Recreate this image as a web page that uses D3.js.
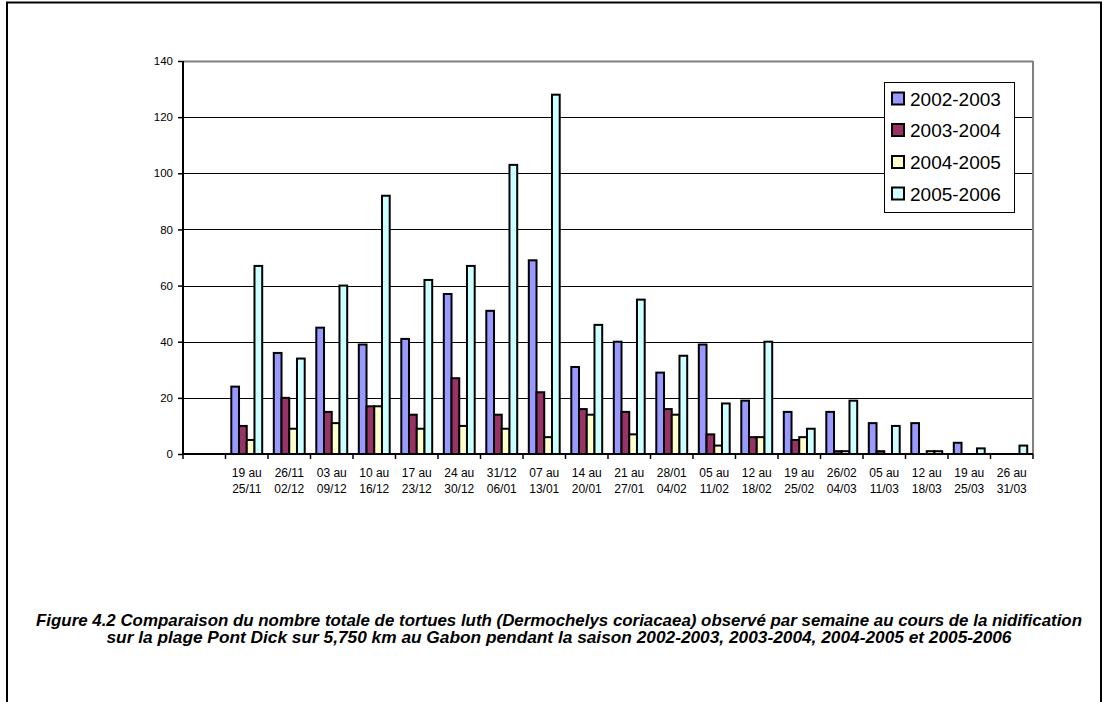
<!DOCTYPE html>
<html>
<head>
<meta charset="utf-8">
<script src="https://cdn.jsdelivr.net/npm/d3@7"></script>
<style>
  html, body { margin: 0; padding: 0; background: #fff; }
  svg { display: block; }
  text { font-family: Arial, "Liberation Sans", sans-serif; fill: #000; }
</style>
</head>
<body>
<svg id="chart" width="1105" height="702"></svg>
<script>
// Weekly nesting counts of leatherback turtles, Pont Dick beach
const weeks = ["", "19 au|25/11", "26/11|02/12", "03 au|09/12", "10 au|16/12", "17 au|23/12",
  "24 au|30/12", "31/12|06/01", "07 au|13/01", "14 au|20/01", "21 au|27/01", "28/01|04/02",
  "05 au|11/02", "12 au|18/02", "19 au|25/02", "26/02|04/03", "05 au|11/03", "12 au|18/03",
  "19 au|25/03", "26 au|31/03"];
const seasons = ["2002-2003", "2003-2004", "2004-2005", "2005-2006"];
const s2002 = [null, 24, 36, 45, 39, 41, 57, 51, 69, 31, 40, 29, 39, 19, 15, 15, 11, 11, 4, 0];
const s2003 = [null, 10, 20, 15, 17, 14, 27, 14, 22, 16, 15, 16, 7, 6, 5, 1, 1, 0, 0, 0];
const s2004 = [null, 5, 9, 11, 17, 9, 10, 9, 6, 14, 7, 14, 3, 6, 6, 1, 0, 1, 0, 0];
const s2005 = [null, 67, 34, 60, 92, 62, 67, 103, 128, 46, 55, 35, 18, 40, 9, 19, 10, 1, 2, 3];
const yTicks = [0, 20, 40, 60, 80, 100, 120, 140];
const colors = ["#9999FF", "#993366", "#FFFFCC", "#CCFFFF"];
const captionLines = [
  "Figure 4.2 Comparaison du nombre totale de tortues luth (Dermochelys coriacaea) observé par semaine au cours de la nidification",
  "sur la plage Pont Dick sur 5,750 km au Gabon pendant la saison 2002-2003, 2003-2004, 2004-2005 et 2005-2006"
];

const seriesValues = [s2002, s2003, s2004, s2005];
const svg = d3.select("#chart");

// Page frame (open at the bottom)
svg.append("path")
  .attr("d", "M7,702 V2.5 H1101 V702")
  .attr("fill", "none").attr("stroke", "#000").attr("stroke-width", 2);

const plotL = 183, plotR = 1033, plotT = 61, plotB = 454;

const x0 = d3.scaleBand().domain(d3.range(weeks.length)).range([plotL, plotR]).padding(0);
const x1 = d3.scaleBand().domain(d3.range(seasons.length)).range([0, x0.bandwidth()])
  .paddingInner(0).paddingOuter(0.75);
const y = d3.scaleLinear().domain([0, 140]).range([plotB, plotT]);

// Horizontal gridlines
svg.append("g").selectAll("line").data(yTicks.filter(t => t > 0)).join("line")
  .attr("x1", plotL).attr("x2", plotR)
  .attr("y1", d => Math.round(y(d)) + 0.5).attr("y2", d => Math.round(y(d)) + 0.5)
  .attr("stroke", d => d === 140 ? "#808080" : "#000").attr("stroke-width", d => d === 140 ? 2 : 1);

// Plot-area right border
svg.append("line").attr("x1", plotR).attr("x2", plotR).attr("y1", plotT).attr("y2", plotB)
  .attr("stroke", "#808080").attr("stroke-width", 2);

// Bars
const groups = svg.append("g").selectAll("g").data(seasons).join("g")
  .attr("fill", (d, i) => colors[i]);
groups.each(function(season, si) {
  d3.select(this).selectAll("rect")
    .data(seriesValues[si].map((v, wi) => ({ v, wi })).filter(d => d.v !== null && d.v > 0))
    .join("rect")
    .attr("x", d => x0(d.wi) + x1(si))
    .attr("width", x1.bandwidth())
    .attr("y", d => y(d.v))
    .attr("height", d => y(0) - y(d.v))
    .attr("stroke", "#000").attr("stroke-width", 2);
});

// Y axis
const yAxis = svg.append("g").attr("transform", `translate(${plotL},0)`)
  .call(d3.axisLeft(y).tickValues(yTicks).tickSize(5).tickPadding(5).tickFormat(d3.format("d")));
yAxis.select(".domain").attr("stroke", "#000").attr("stroke-width", 2)
  .attr("d", `M0,${plotT}V${plotB}`);
yAxis.selectAll(".tick line").attr("stroke", "#000").attr("stroke-width", 1.5);
yAxis.selectAll("text").style("font-size", "11.5px").style("font-family", "Arial, 'Liberation Sans', sans-serif");

// X axis line and category boundary ticks
svg.append("line").attr("x1", plotL).attr("x2", plotR).attr("y1", plotB).attr("y2", plotB)
  .attr("stroke", "#000").attr("stroke-width", 2);
const bounds = x0.domain().map(i => x0(i)).concat([plotR]);
svg.append("g").selectAll("line").data(bounds).join("line")
  .attr("x1", d => d).attr("x2", d => d).attr("y1", plotB).attr("y2", plotB + 5)
  .attr("stroke", "#000").attr("stroke-width", 1.5);

// Two-line week labels
const xl = svg.append("g").selectAll("text").data(weeks.map((w, i) => ({ w, i })).filter(d => d.w))
  .join("text")
  .attr("text-anchor", "middle")
  .style("font-size", "12px")
  .attr("x", d => x0(d.i) + x0.bandwidth() / 2);
xl.each(function(d) {
  const parts = d.w.split("|");
  d3.select(this).selectAll("tspan").data(parts).join("tspan")
    .attr("x", x0(d.i) + x0.bandwidth() / 2)
    .attr("y", (p, k) => 476.5 + k * 16.7)
    .text(p => p);
});

// Legend
const lg = svg.append("g");
lg.append("rect").attr("x", 884.5).attr("y", 82.5).attr("width", 130).attr("height", 130)
  .attr("fill", "#fff").attr("stroke", "#000").attr("stroke-width", 1);
const rowY = [99, 130.5, 162.5, 194];
seasons.forEach((s, i) => {
  lg.append("rect").attr("x", 892).attr("y", rowY[i] - 6.5).attr("width", 12).attr("height", 12)
    .attr("fill", colors[i]).attr("stroke", "#000").attr("stroke-width", 2);
  lg.append("text").attr("x", 910).attr("y", rowY[i]).attr("dy", "0.36em")
    .style("font-size", "19px").text(s);
});

// Caption (condensed italic, compressed to its line width)
const capLen = [1046, 905];
const capY = [626, 643];
captionLines.forEach((t, i) => {
  svg.append("text")
    .attr("x", 559).attr("y", capY[i]).attr("text-anchor", "middle")
    .attr("textLength", capLen[i]).attr("lengthAdjust", "spacingAndGlyphs")
    .style("font-family", "'Liberation Sans Narrow', 'Arial Narrow', Arial, sans-serif")
    .style("font-style", "italic").style("font-weight", "bold").style("font-size", "16.5px")
    .text(t);
});
</script>
</body>
</html>
